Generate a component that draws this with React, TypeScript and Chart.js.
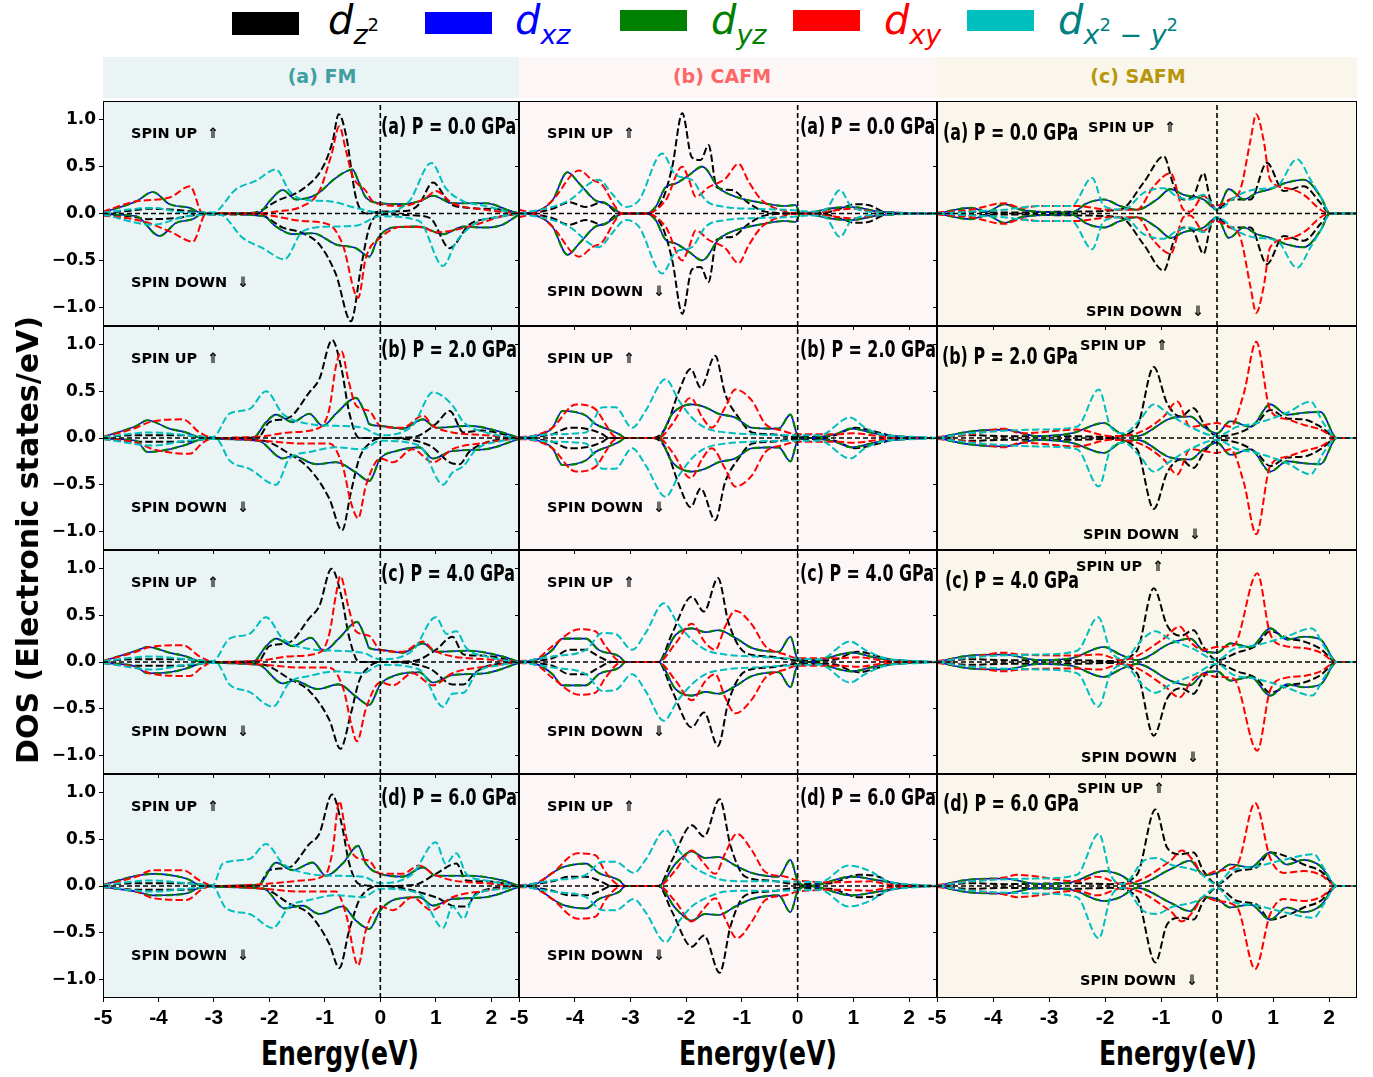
import React, { useEffect, useRef } from "react";
import { Chart, registerables } from "chart.js";
Chart.register(...registerables);

type P = [number, number][];

// ================= DATA (Energy eV, DOS states/eV) =================
// ---- FM, P = 0.0 GPa ----
const FM_P0_DZ2_UP: P = [[-5,0.01],[-4.5,0.03],[-4.2,0.05],[-3.7,0.04],[-3.2,0.01],[-2.5,0],[-2.2,0.02],[-1.88,0.13],[-1.4,0.26],[-1.04,0.49],[-0.86,0.77],[-0.75,1.06],[-0.62,0.84],[-0.44,0.17],[-0.26,0],[0,0.02],[0.5,0.03],[0.7,0.1],[0.95,0.33],[1.25,0.11],[1.6,0.06],[2.2,0.04],[2.5,0]];
const FM_P0_DZ2_DN: P = [[-5,-0.01],[-4.5,-0.03],[-4.2,-0.06],[-3.7,-0.05],[-3.2,-0.01],[-2.2,-0.01],[-1.76,-0.15],[-1.4,-0.21],[-1.1,-0.33],[-0.8,-0.65],[-0.53,-1.15],[-0.35,-0.58],[-0.2,-0.15],[0,-0.01],[0.6,-0.02],[0.9,-0.05],[1.25,-0.37],[1.6,-0.12],[2.0,-0.05],[2.5,0]];
const FM_P0_DXY_UP: P = [[-5,0.02],[-4.4,0.13],[-3.8,0.17],[-3.43,0.29],[-3.2,0],[-2.2,0],[-1.9,0.02],[-1.4,0.08],[-1.1,0.24],[-0.88,0.63],[-0.74,0.93],[-0.62,0.67],[-0.5,0.4],[-0.26,0.24],[-0.14,0.13],[0,0.1],[0.4,0.08],[0.83,0.17],[1.0,0.24],[1.3,0.11],[1.9,0.04],[2.5,0]];
const FM_P0_DXY_DN: P = [[-5,-0.02],[-4.3,-0.08],[-3.8,-0.19],[-3.38,-0.3],[-3.14,0],[-2.2,0],[-1.9,-0.03],[-1.4,-0.08],[-0.92,-0.12],[-0.68,-0.33],[-0.4,-0.9],[-0.26,-0.47],[0,-0.26],[0.4,-0.14],[0.77,-0.15],[1.0,-0.2],[1.6,-0.14],[2.2,-0.03],[2.5,0]];
const FM_P0_DXZ_UP: P = [[-5,0.01],[-4.4,0.13],[-4.1,0.23],[-3.8,0.1],[-3.44,0.06],[-3.2,0],[-2.18,0.01],[-2.0,0.13],[-1.76,0.25],[-1.52,0.15],[-1.16,0.2],[-0.8,0.38],[-0.5,0.47],[-0.4,0.35],[-0.26,0.17],[0,0.11],[0.4,0.1],[0.7,0.13],[0.95,0.19],[1.3,0.11],[1.9,0.11],[2.33,0.03],[2.5,0]];
const FM_P0_DXZ_DN: P = [[-5,-0.01],[-4.4,-0.03],[-3.98,-0.24],[-3.68,-0.1],[-3.38,-0.06],[-3.2,0],[-2.1,-0.03],[-1.88,-0.14],[-1.58,-0.22],[-1.22,-0.21],[-0.8,-0.33],[-0.44,-0.37],[-0.2,-0.46],[-0.04,-0.26],[0.23,-0.15],[0.7,-0.14],[1.13,-0.22],[1.5,-0.14],[1.9,-0.15],[2.2,-0.12],[2.5,-0.01]];
const FM_P0_DX2_UP: P = [[-5,0.01],[-4.1,0.06],[-3.5,0.01],[-3.02,0.01],[-2.6,0.26],[-2.24,0.35],[-1.88,0.47],[-1.64,0.24],[-1.4,0.15],[-0.92,0.13],[-0.44,0.06],[0,0.01],[0.52,0.13],[0.92,0.54],[1.18,0.27],[1.5,0.13],[1.9,0.08],[2.4,0]];
const FM_P0_DX2_DN: P = [[-5,-0.01],[-4.1,-0.12],[-3.5,-0.03],[-2.9,-0.01],[-2.48,-0.26],[-2.12,-0.37],[-1.73,-0.49],[-1.4,-0.19],[-0.92,-0.14],[-0.44,-0.13],[0,-0.03],[0.7,-0.08],[1.13,-0.56],[1.37,-0.3],[1.73,-0.1],[2.2,-0.03],[2.5,0]];
// ---- FM, P = 2.0 GPa ----
const FM_P2_DZ2_UP: P = [[-5,0.01],[-4.4,0.03],[-3.5,0.03],[-3.0,0],[-2.2,0.01],[-2,0.17],[-1.64,0.22],[-1.28,0.49],[-1.1,0.63],[-0.87,1.05],[-0.7,0.74],[-0.56,0.27],[-0.38,0],[0,0],[0.6,0.01],[1.0,0.15],[1.25,0.29],[1.5,0.06],[1.8,0.08],[2.5,0]];
const FM_P2_DZ2_DN: P = [[-5,-0.01],[-4.4,-0.04],[-3.5,-0.04],[-3.0,0],[-2.1,-0.03],[-1.64,-0.17],[-1.28,-0.33],[-0.92,-0.65],[-0.69,-0.99],[-0.53,-0.58],[-0.38,-0.22],[-0.2,-0.06],[0,0],[0.89,-0.08],[1.25,-0.26],[1.43,-0.28],[1.6,-0.15],[1.9,-0.05],[2.5,0]];
const FM_P2_DXY_UP: P = [[-5,0.01],[-4.4,0.11],[-4.16,0.17],[-3.56,0.2],[-3.26,0.06],[-3.0,0],[-2.1,0.02],[-1.64,0.06],[-1.1,0.11],[-0.92,0.31],[-0.8,0.77],[-0.7,0.93],[-0.58,0.63],[-0.44,0.35],[-0.2,0.29],[0,0.13],[0.4,0.11],[0.77,0.24],[0.95,0.13],[1.3,0.06],[1.9,0.03],[2.5,0]];
const FM_P2_DXY_DN: P = [[-5,-0.01],[-4.4,-0.05],[-4.1,-0.12],[-3.44,-0.17],[-3.2,-0.05],[-3.0,0],[-2.1,-0.03],[-1.4,-0.06],[-0.92,-0.06],[-0.68,-0.3],[-0.53,-0.69],[-0.4,-0.86],[-0.26,-0.51],[0,-0.22],[0.23,-0.26],[0.58,-0.12],[0.95,-0.26],[1.3,-0.12],[1.9,-0.05],[2.5,0]];
const FM_P2_DXZ_UP: P = [[-5,0.01],[-4.4,0.13],[-4.2,0.19],[-3.8,0.1],[-3.5,0.06],[-3.2,0],[-2.3,0],[-2.06,0.17],[-1.88,0.25],[-1.58,0.17],[-1.28,0.26],[-1.04,0.13],[-0.8,0.26],[-0.44,0.43],[-0.26,0.24],[-0.2,0.15],[0,0.13],[0.4,0.1],[0.77,0.2],[1.0,0.11],[1.6,0.13],[2.2,0.06],[2.5,0]];
const FM_P2_DXZ_DN: P = [[-5,-0.01],[-4.4,-0.03],[-4.2,-0.15],[-3.8,-0.12],[-3.44,-0.06],[-3.2,-0.01],[-2.2,-0.03],[-1.76,-0.22],[-1.58,-0.19],[-1.16,-0.28],[-0.8,-0.26],[-0.44,-0.37],[-0.2,-0.46],[0,-0.22],[0.29,-0.14],[0.7,-0.1],[0.95,-0.22],[1.3,-0.14],[1.9,-0.12],[2.5,-0.01]];
const FM_P2_DX2_UP: P = [[-5,0.01],[-4.1,0.06],[-3.5,0.03],[-3.02,0.01],[-2.72,0.26],[-2.36,0.31],[-2.06,0.5],[-1.76,0.26],[-1.28,0.15],[-0.8,0.13],[-0.32,0.11],[0,0.03],[0.58,0.13],[0.95,0.49],[1.3,0.35],[1.5,0.17],[1.9,0.06],[2.45,0]];
const FM_P2_DX2_DN: P = [[-5,-0.01],[-4.1,-0.08],[-3.5,-0.03],[-2.96,-0.01],[-2.72,-0.24],[-2.36,-0.33],[-1.88,-0.5],[-1.64,-0.22],[-1.28,-0.15],[-0.8,-0.1],[-0.32,-0.12],[0,-0.03],[0.7,-0.08],[1.13,-0.5],[1.3,-0.37],[1.5,-0.3],[1.73,-0.12],[2.2,-0.03],[2.5,0]];
// ---- FM, P = 4.0 GPa ----
const FM_P4_DZ2_UP: P = [[-5,0.01],[-4.4,0.03],[-3.5,0.03],[-3.0,0],[-2.2,0.01],[-2,0.17],[-1.64,0.21],[-1.28,0.47],[-1.1,0.6],[-0.88,1.0],[-0.7,0.7],[-0.56,0.26],[-0.38,0],[0,0],[0.6,0.01],[1.0,0.13],[1.3,0.27],[1.5,0.08],[1.8,0.07],[2.5,0]];
const FM_P4_DZ2_DN: P = [[-5,-0.01],[-4.4,-0.04],[-3.5,-0.04],[-3.0,0],[-2.1,-0.03],[-1.64,-0.18],[-1.28,-0.31],[-0.92,-0.62],[-0.72,-0.93],[-0.53,-0.55],[-0.38,-0.2],[-0.2,-0.05],[0,0],[0.89,-0.07],[1.3,-0.24],[1.5,-0.24],[1.7,-0.12],[1.9,-0.05],[2.5,0]];
const FM_P4_DXY_UP: P = [[-5,0.01],[-4.4,0.11],[-4.16,0.16],[-3.56,0.18],[-3.26,0.06],[-3.0,0],[-2.1,0.02],[-1.64,0.06],[-1.1,0.1],[-0.92,0.3],[-0.8,0.72],[-0.72,0.92],[-0.58,0.6],[-0.44,0.33],[-0.2,0.28],[0,0.13],[0.4,0.11],[0.77,0.22],[0.95,0.13],[1.3,0.06],[1.9,0.03],[2.5,0]];
const FM_P4_DXY_DN: P = [[-5,-0.01],[-4.4,-0.06],[-4.1,-0.13],[-3.44,-0.15],[-3.2,-0.05],[-3.0,0],[-2.1,-0.03],[-1.4,-0.06],[-0.92,-0.06],[-0.66,-0.3],[-0.52,-0.68],[-0.42,-0.85],[-0.26,-0.5],[0,-0.22],[0.23,-0.25],[0.58,-0.12],[0.95,-0.25],[1.3,-0.12],[1.9,-0.05],[2.5,0]];
const FM_P4_DXZ_UP: P = [[-5,0.01],[-4.4,0.12],[-4.2,0.16],[-3.8,0.1],[-3.5,0.06],[-3.2,0],[-2.3,0],[-2.06,0.17],[-1.88,0.25],[-1.58,0.17],[-1.25,0.26],[-1.02,0.12],[-0.75,0.25],[-0.42,0.43],[-0.26,0.24],[-0.2,0.15],[0,0.13],[0.4,0.1],[0.77,0.2],[1.0,0.11],[1.6,0.12],[2.2,0.06],[2.5,0]];
const FM_P4_DXZ_DN: P = [[-5,-0.01],[-4.4,-0.05],[-4.2,-0.12],[-3.8,-0.11],[-3.44,-0.06],[-3.2,-0.01],[-2.2,-0.03],[-1.76,-0.23],[-1.55,-0.2],[-1.13,-0.29],[-0.75,-0.24],[-0.44,-0.37],[-0.2,-0.46],[0,-0.24],[0.29,-0.14],[0.7,-0.11],[0.95,-0.22],[1.3,-0.14],[1.9,-0.12],[2.5,-0.01]];
const FM_P4_DX2_UP: P = [[-5,0.01],[-4.1,0.06],[-3.5,0.03],[-3.02,0.01],[-2.72,0.25],[-2.36,0.3],[-2.06,0.48],[-1.76,0.25],[-1.28,0.14],[-0.8,0.12],[-0.32,0.1],[0,0.03],[0.58,0.12],[1.0,0.48],[1.2,0.3],[1.37,0.33],[1.55,0.15],[1.9,0.06],[2.45,0]];
const FM_P4_DX2_DN: P = [[-5,-0.01],[-4.1,-0.08],[-3.5,-0.03],[-2.96,-0.01],[-2.72,-0.24],[-2.36,-0.32],[-1.94,-0.48],[-1.64,-0.22],[-1.28,-0.15],[-0.8,-0.1],[-0.32,-0.12],[0,-0.03],[0.7,-0.08],[1.13,-0.48],[1.3,-0.34],[1.5,-0.33],[1.73,-0.12],[2.2,-0.03],[2.5,0]];
// ---- FM, P = 6.0 GPa ----
const FM_P6_DZ2_UP: P = [[-5,0.01],[-4.4,0.03],[-3.5,0.03],[-3.0,0],[-2.2,0.01],[-2,0.17],[-1.64,0.2],[-1.28,0.45],[-1.1,0.56],[-0.87,0.98],[-0.7,0.67],[-0.56,0.24],[-0.38,0.02],[0,0],[0.6,0.01],[1.0,0.13],[1.37,0.24],[1.55,0.06],[1.9,0.05],[2.5,0]];
const FM_P6_DZ2_DN: P = [[-5,-0.01],[-4.4,-0.04],[-3.5,-0.04],[-3.0,0],[-2.1,-0.03],[-1.64,-0.19],[-1.28,-0.3],[-0.92,-0.62],[-0.74,-0.88],[-0.56,-0.47],[-0.38,-0.15],[-0.2,-0.03],[0,0],[1.0,-0.12],[1.37,-0.22],[1.55,-0.22],[1.73,-0.08],[2.5,0]];
const FM_P6_DXY_UP: P = [[-5,0.01],[-4.4,0.1],[-4.1,0.17],[-3.56,0.17],[-3.26,0.06],[-3.0,0],[-2.1,0.02],[-1.4,0.06],[-0.98,0.13],[-0.86,0.38],[-0.74,0.91],[-0.6,0.49],[-0.44,0.31],[-0.2,0.27],[0,0.13],[0.4,0.13],[0.7,0.22],[0.95,0.13],[1.3,0.06],[1.9,0.03],[2.5,0]];
const FM_P6_DXY_DN: P = [[-5,-0.01],[-4.4,-0.06],[-4.1,-0.13],[-3.5,-0.15],[-3.2,-0.03],[-3.0,0],[-2.1,-0.03],[-1.4,-0.06],[-0.8,-0.06],[-0.62,-0.3],[-0.4,-0.85],[-0.26,-0.47],[0,-0.22],[0.23,-0.26],[0.58,-0.12],[0.92,-0.26],[1.3,-0.12],[1.9,-0.05],[2.5,0]];
const FM_P6_DXZ_UP: P = [[-5,0.01],[-4.4,0.11],[-4.1,0.13],[-3.5,0.08],[-3.2,0],[-2.2,0.01],[-1.88,0.25],[-1.58,0.17],[-1.22,0.25],[-0.98,0.11],[-0.68,0.24],[-0.4,0.43],[-0.26,0.24],[0,0.13],[0.4,0.1],[0.77,0.2],[1.0,0.11],[1.6,0.11],[2.2,0.06],[2.5,0]];
const FM_P6_DXZ_DN: P = [[-5,-0.01],[-4.4,-0.06],[-4.1,-0.1],[-3.5,-0.08],[-3.2,-0.01],[-2.1,-0.03],[-1.73,-0.24],[-1.4,-0.21],[-1.1,-0.3],[-0.68,-0.22],[-0.44,-0.37],[-0.2,-0.46],[0,-0.26],[0.29,-0.14],[0.7,-0.12],[0.95,-0.21],[1.3,-0.14],[1.9,-0.12],[2.5,-0.01]];
const FM_P6_DX2_UP: P = [[-5,0.01],[-4.1,0.06],[-3.5,0.03],[-3.02,0.01],[-2.84,0.24],[-2.36,0.29],[-2.06,0.45],[-1.76,0.24],[-1.28,0.13],[-0.8,0.11],[-0.32,0.1],[0,0.03],[0.58,0.13],[1.0,0.47],[1.18,0.24],[1.37,0.35],[1.55,0.13],[1.9,0.06],[2.45,0]];
const FM_P6_DX2_DN: P = [[-5,-0.01],[-4.1,-0.06],[-3.5,-0.03],[-3.02,-0.01],[-2.78,-0.24],[-2.36,-0.3],[-1.94,-0.45],[-1.64,-0.22],[-1.28,-0.15],[-0.8,-0.1],[-0.32,-0.12],[0,-0.03],[0.7,-0.08],[1.13,-0.45],[1.3,-0.22],[1.5,-0.35],[1.67,-0.12],[2.2,-0.03],[2.5,0]];

// ---- CAFM (spin-down channel is the mirror image of spin-up) ----
const CAFM_P0_DZ2: P = [[-5,0],[-4.7,0.01],[-4.4,0.05],[-4.1,0.12],[-3.8,0.07],[-3.5,0.12],[-3.2,0],[-2.73,0],[-2.43,0.14],[-2.25,0.5],[-2.07,1.07],[-1.9,0.6],[-1.74,0.57],[-1.6,0.73],[-1.45,0.28],[-1.18,0.25],[-0.88,0.11],[-0.58,0.02],[0,0],[0.5,0.01],[0.8,0.06],[1.03,0.1],[1.27,0.09],[1.6,0.01],[2.5,0]];
const CAFM_P0_DXY: P = [[-5,0.04],[-4.85,0.02],[-4.7,0.01],[-4.4,0.14],[-3.92,0.46],[-3.69,0.36],[-3.5,0.3],[-3.27,0.07],[-3.15,0],[-2.73,0],[-2.37,0.14],[-2.07,0.5],[-1.95,0.36],[-1.83,0.18],[-1.6,0.28],[-1.3,0.37],[-1.06,0.53],[-0.88,0.34],[-0.64,0.14],[-0.2,0.02],[0,0],[0.5,0.02],[0.97,0.05],[1.5,0.01],[2.5,0]];
const CAFM_P0_DXZ: P = [[-5,0],[-4.7,0.02],[-4.4,0.14],[-4.13,0.44],[-3.92,0.32],[-3.63,0.14],[-3.45,0.11],[-3.27,0.04],[-3.15,0],[-2.73,0],[-2.55,0.07],[-2.37,0.28],[-2.19,0.32],[-1.95,0.41],[-1.71,0.5],[-1.41,0.27],[-1.12,0.18],[-0.7,0.12],[-0.22,0.08],[-0.04,0.09],[0.05,0],[0.67,0.06],[0.97,0.07],[1.45,0.02],[2.5,0]];
const CAFM_P0_DX2: P = [[-5,0],[-4.4,0.07],[-4.1,0.14],[-3.57,0.36],[-3.33,0.21],[-3.09,0.07],[-2.85,0.14],[-2.43,0.64],[-2.19,0.41],[-1.9,0.36],[-1.65,0.14],[-1.3,0.07],[-0.82,0.05],[-0.22,0.04],[0.3,0.02],[0.5,0.04],[0.76,0.25],[0.97,0.07],[1.57,0.01],[2.5,0]];
const CAFM_P2_DZ2: P = [[-5,0],[-4.4,0.04],[-4.1,0.11],[-3.8,0.1],[-3.5,0.04],[-3.39,0],[-2.6,0],[-2.37,0.11],[-2.13,0.5],[-1.92,0.74],[-1.74,0.54],[-1.48,0.88],[-1.3,0.47],[-1.06,0.22],[-0.82,0.06],[-0.46,0.04],[0,0.01],[0.6,0.02],[1.03,0.11],[1.45,0.06],[1.8,0.01],[2.5,0]];
const CAFM_P2_DXY: P = [[-5,0.01],[-4.7,0.03],[-4.4,0.11],[-3.98,0.36],[-3.63,0.31],[-3.45,0.15],[-3.33,0.04],[-3.2,0],[-2.5,0],[-2.25,0.15],[-1.92,0.43],[-1.71,0.22],[-1.54,0.11],[-1.3,0.33],[-1.12,0.52],[-0.82,0.4],[-0.58,0.15],[-0.28,0.08],[0,0.04],[0.7,0.04],[1.0,0.05],[1.6,0.01],[2.5,0]];
const CAFM_P2_DXZ: P = [[-5,0],[-4.7,0.02],[-4.4,0.11],[-4.22,0.29],[-3.8,0.24],[-3.63,0.15],[-3.39,0.09],[-3.2,0.04],[-3.09,0],[-2.5,0],[-2.25,0.26],[-1.9,0.36],[-1.66,0.33],[-1.42,0.26],[-1.12,0.22],[-0.82,0.11],[-0.34,0.1],[-0.13,0.25],[0,0.03],[0.2,0],[0.67,0.04],[0.97,0.1],[1.45,0.04],[2.0,0.01],[2.5,0]];
const CAFM_P2_DX2: P = [[-5,0],[-4.4,0.04],[-3.8,0.06],[-3.5,0.33],[-3.27,0.33],[-2.97,0.11],[-2.73,0.29],[-2.37,0.63],[-2.13,0.4],[-1.9,0.22],[-1.66,0.11],[-1.3,0.06],[-0.82,0.04],[-0.22,0.03],[0.4,0.03],[0.94,0.22],[1.21,0.11],[1.57,0.03],[2.2,0.01],[2.5,0]];
const CAFM_P4_DZ2: P = [[-5,0],[-4.4,0.04],[-4.1,0.13],[-3.8,0.13],[-3.57,0.06],[-3.33,0],[-2.5,0],[-2.25,0.31],[-1.9,0.7],[-1.68,0.54],[-1.43,0.9],[-1.24,0.42],[-0.94,0.1],[-0.52,0.06],[0,0.02],[0.6,0.02],[1.09,0.11],[1.45,0.06],[1.8,0.01],[2.5,0]];
const CAFM_P4_DXY: P = [[-5,0.01],[-4.7,0.03],[-4.4,0.17],[-3.92,0.35],[-3.63,0.33],[-3.45,0.17],[-3.15,0],[-2.5,0],[-2.19,0.2],[-1.9,0.41],[-1.65,0.2],[-1.48,0.13],[-1.3,0.38],[-1.12,0.55],[-0.82,0.4],[-0.58,0.17],[-0.22,0.08],[0,0.04],[0.7,0.04],[1.1,0.05],[1.6,0.01],[2.5,0]];
const CAFM_P4_DXZ: P = [[-5,0],[-4.7,0.02],[-4.4,0.13],[-4.22,0.25],[-3.8,0.25],[-3.57,0.13],[-3.2,0.06],[-3.09,0],[-2.5,0],[-2.19,0.29],[-1.9,0.36],[-1.66,0.32],[-1.42,0.34],[-1.12,0.26],[-0.82,0.15],[-0.34,0.11],[-0.13,0.27],[0,0.03],[0.2,0],[0.97,0.1],[1.45,0.04],[2.0,0.01],[2.5,0]];
const CAFM_P4_DX2: P = [[-5,0],[-4.4,0.06],[-3.8,0.13],[-3.5,0.31],[-3.27,0.3],[-2.97,0.13],[-2.73,0.31],[-2.4,0.63],[-2.16,0.42],[-1.9,0.24],[-1.65,0.13],[-1.3,0.08],[-0.82,0.06],[-0.22,0.04],[0.4,0.03],[0.94,0.22],[1.21,0.13],[1.57,0.04],[2.2,0.01],[2.5,0]];
const CAFM_P6_DZ2: P = [[-5,0],[-4.4,0.05],[-4.1,0.1],[-3.8,0.1],[-3.57,0.06],[-3.33,0],[-2.5,0],[-2.25,0.28],[-1.9,0.65],[-1.68,0.53],[-1.4,0.93],[-1.2,0.42],[-0.94,0.1],[-0.52,0.06],[0,0.02],[0.6,0.03],[1.09,0.12],[1.45,0.1],[1.7,0.03],[2.5,0]];
const CAFM_P6_DXY: P = [[-5,0.01],[-4.7,0.03],[-4.4,0.14],[-3.95,0.35],[-3.63,0.33],[-3.45,0.15],[-3.15,0],[-2.5,0],[-2.19,0.17],[-1.9,0.38],[-1.68,0.24],[-1.48,0.13],[-1.3,0.35],[-1.09,0.56],[-0.82,0.38],[-0.58,0.15],[-0.22,0.1],[0,0.06],[0.7,0.04],[1.3,0.05],[1.7,0.01],[2.5,0]];
const CAFM_P6_DXZ: P = [[-5,0],[-4.7,0.02],[-4.4,0.14],[-4.22,0.2],[-3.8,0.24],[-3.57,0.14],[-3.2,0.06],[-3.09,0],[-2.5,0],[-2.19,0.24],[-1.9,0.37],[-1.66,0.3],[-1.42,0.31],[-1.12,0.22],[-0.82,0.14],[-0.34,0.1],[-0.13,0.28],[0,0.06],[0.2,0],[0.97,0.1],[1.45,0.06],[2.0,0.01],[2.5,0]];
const CAFM_P6_DX2: P = [[-5,0],[-4.4,0.06],[-3.8,0.12],[-3.5,0.26],[-3.27,0.26],[-2.94,0.14],[-2.73,0.28],[-2.37,0.6],[-2.13,0.38],[-1.9,0.22],[-1.65,0.13],[-1.3,0.06],[-0.82,0.05],[-0.22,0.05],[0.4,0.04],[0.91,0.22],[1.33,0.15],[1.57,0.06],[2.2,0.01],[2.5,0]];

// ---- SAFM (spin-down channel is the mirror image of spin-up) ----
const SAFM_P0_DZ2: P = [[-5,0],[-4.4,0.02],[-3.8,0.01],[-2.6,0.02],[-1.73,0.04],[-1.31,0.33],[-0.95,0.61],[-0.77,0.29],[-0.6,0.15],[-0.42,0.19],[-0.24,0.43],[-0.12,0.15],[0,0.04],[0.24,0.15],[0.6,0.15],[0.89,0.54],[1.19,0.24],[1.55,0.29],[1.85,0.11],[2.02,0],[2.5,0]];
const SAFM_P0_DXY: P = [[-5,0.01],[-4.4,0.04],[-3.8,0.11],[-3.5,0.06],[-3.2,0.08],[-2.5,0.08],[-1.9,0.04],[-1.43,0.04],[-1.13,0.29],[-0.83,0.43],[-0.6,0.04],[-0.48,0.02],[-0.24,0.19],[-0.06,0.08],[0.24,0.15],[0.42,0.26],[0.6,0.79],[0.7,1.06],[0.83,0.79],[0.95,0.36],[1.25,0.27],[1.55,0.2],[1.85,0.04],[2.02,0],[2.5,0]];
const SAFM_P0_DXZ: P = [[-5,0],[-4.4,0.06],[-4.1,0.02],[-3.8,0.1],[-3.5,0.04],[-2.6,0.01],[-2.32,0.11],[-2.02,0.15],[-1.73,0.08],[-1.43,0.04],[-1.07,0.15],[-0.83,0.26],[-0.6,0.2],[-0.24,0.15],[0,0.04],[0.21,0.26],[0.48,0.15],[0.71,0.22],[0.95,0.26],[1.25,0.33],[1.55,0.36],[1.85,0.18],[2.02,0],[2.5,0]];
const SAFM_P0_DX2: P = [[-5,0],[-4.4,0.02],[-3.8,0.04],[-3.2,0.08],[-2.6,0.08],[-2.23,0.38],[-2.02,0.08],[-1.67,0.04],[-1.31,0.22],[-0.95,0.27],[-0.71,0.18],[-0.48,0.15],[-0.24,0.2],[0,0.04],[0.36,0.19],[0.71,0.26],[1.07,0.29],[1.43,0.58],[1.67,0.36],[1.85,0.18],[2.02,0],[2.5,0]];
const SAFM_P2_DZ2: P = [[-5,0],[-4.4,0.03],[-3.8,0.02],[-2.6,0.02],[-1.9,0.01],[-1.43,0.12],[-1.13,0.76],[-0.89,0.37],[-0.65,0.23],[-0.42,0.32],[-0.24,0.16],[0,0.02],[0.36,0.05],[0.71,0.16],[0.95,0.3],[1.25,0.21],[1.55,0.2],[1.85,0.12],[2.14,0],[2.5,0]];
const SAFM_P2_DXY: P = [[-5,0.01],[-4.4,0.04],[-3.8,0.1],[-3.5,0.05],[-2.5,0.09],[-1.9,0.02],[-1.43,0.05],[-0.95,0.23],[-0.71,0.39],[-0.48,0.12],[-0.24,0.14],[0,0.16],[0.24,0.12],[0.48,0.48],[0.7,1.03],[0.95,0.3],[1.25,0.2],[1.55,0.14],[1.85,0.09],[2.14,0],[2.5,0]];
const SAFM_P2_DXZ: P = [[-5,0],[-4.4,0.07],[-3.8,0.09],[-3.2,0.02],[-2.6,0.05],[-2.02,0.16],[-1.73,0.05],[-1.43,0.02],[-0.83,0.21],[-0.48,0.23],[-0.24,0.12],[0,0.05],[0.24,0.18],[0.6,0.12],[0.95,0.36],[1.25,0.25],[1.55,0.27],[1.85,0.28],[2.14,0],[2.5,0]];
const SAFM_P2_DX2: P = [[-5,0],[-4.4,0.05],[-3.2,0.09],[-2.5,0.12],[-2.11,0.52],[-1.9,0.12],[-1.67,0.05],[-1.37,0.2],[-1.13,0.36],[-0.89,0.27],[-0.48,0.12],[0,0.02],[0.36,0.12],[0.71,0.16],[1.25,0.27],[1.67,0.39],[1.9,0.16],[2.14,0],[2.5,0]];
const SAFM_P4_DZ2: P = [[-5,0],[-4.4,0.03],[-3.8,0.02],[-2.6,0.02],[-1.9,0.01],[-1.43,0.12],[-1.13,0.79],[-0.89,0.39],[-0.65,0.28],[-0.42,0.34],[-0.24,0.16],[0,0.02],[0.36,0.1],[0.71,0.18],[0.95,0.33],[1.28,0.25],[1.55,0.22],[1.85,0.14],[2.14,0],[2.5,0]];
const SAFM_P4_DXY: P = [[-5,0.01],[-4.4,0.05],[-3.8,0.1],[-3.5,0.08],[-2.5,0.07],[-2.1,0.08],[-1.7,0.02],[-0.95,0.25],[-0.67,0.38],[-0.45,0.2],[-0.24,0.13],[0,0.16],[0.3,0.18],[0.72,0.95],[0.95,0.3],[1.22,0.17],[1.55,0.15],[1.85,0.1],[2.14,0],[2.5,0]];
const SAFM_P4_DXZ: P = [[-5,0],[-4.4,0.07],[-3.8,0.08],[-3.2,0.02],[-2.6,0.04],[-2.02,0.16],[-1.73,0.08],[-1.43,0.02],[-0.83,0.2],[-0.48,0.25],[-0.24,0.12],[0,0.1],[0.24,0.2],[0.6,0.16],[0.95,0.36],[1.25,0.24],[1.55,0.27],[1.85,0.24],[2.14,0],[2.5,0]];
const SAFM_P4_DX2: P = [[-5,0],[-4.4,0.05],[-3.2,0.08],[-2.5,0.12],[-2.12,0.48],[-1.9,0.12],[-1.67,0.03],[-1.34,0.24],[-1.1,0.33],[-0.86,0.25],[-0.42,0.14],[0,0.02],[0.3,0.14],[0.71,0.18],[1.22,0.27],[1.7,0.36],[1.9,0.18],[2.14,0],[2.5,0]];
const SAFM_P6_DZ2: P = [[-5,0],[-4.4,0.03],[-3.8,0.02],[-2.6,0.03],[-1.9,0.02],[-1.43,0.12],[-1.1,0.82],[-0.89,0.41],[-0.65,0.34],[-0.42,0.36],[-0.24,0.16],[0,0.02],[0.36,0.16],[0.71,0.2],[0.95,0.36],[1.31,0.3],[1.55,0.23],[1.85,0.16],[2.14,0],[2.5,0]];
const SAFM_P6_DXY: P = [[-5,0.01],[-4.4,0.05],[-3.8,0.09],[-3.57,0.12],[-2.5,0.05],[-2.15,0.1],[-1.67,0.02],[-0.83,0.27],[-0.63,0.38],[-0.42,0.27],[-0.24,0.12],[0,0.16],[0.36,0.23],[0.68,0.89],[0.95,0.3],[1.19,0.14],[1.55,0.16],[1.85,0.12],[2.14,0],[2.5,0]];
const SAFM_P6_DXZ: P = [[-5,0],[-4.4,0.07],[-3.8,0.08],[-3.2,0.02],[-2.6,0.04],[-2.02,0.16],[-1.73,0.12],[-1.43,0.02],[-0.83,0.18],[-0.48,0.27],[-0.24,0.12],[0,0.14],[0.24,0.23],[0.6,0.2],[0.95,0.36],[1.25,0.23],[1.55,0.28],[1.85,0.21],[2.14,0],[2.5,0]];
const SAFM_P6_DX2: P = [[-5,0],[-4.4,0.05],[-3.2,0.08],[-2.5,0.12],[-2.11,0.56],[-1.9,0.12],[-1.67,0.02],[-1.31,0.27],[-1.07,0.3],[-0.83,0.23],[-0.36,0.16],[0,0.02],[0.24,0.16],[0.71,0.21],[1.19,0.28],[1.73,0.34],[1.9,0.2],[2.14,0],[2.5,0]];

// ---- axes / labels ----
const X_TICKS = [-5, -4, -3, -2, -1, 0, 1, 2];
const Y_TICKS = [-1, -0.5, 0, 0.5, 1];
const X_MIN = -5, X_MAX = 2.5, Y_MIN = -1.2, Y_MAX = 1.2;
const PRESSURES = ["0.0", "2.0", "4.0", "6.0"];
const ROW_TAGS = ["(a)", "(b)", "(c)", "(d)"];
const PHASES = ["(a) FM", "(b) CAFM", "(c) SAFM"];

// ================= BUILD =================
type Curves = { dz2: [P, P]; dxz: [P, P]; dxy: [P, P]; dx2: [P, P] };
const neg = (a: P): P => a.map(([x, y]) => [x, -y] as [number, number]);
const afm = (dz2: P, dxz: P, dxy: P, dx2: P): Curves => ({
  dz2: [dz2, neg(dz2)], dxz: [dxz, neg(dxz)], dxy: [dxy, neg(dxy)], dx2: [dx2, neg(dx2)],
});
const FM: Curves[] = [
  { dz2: [FM_P0_DZ2_UP, FM_P0_DZ2_DN], dxz: [FM_P0_DXZ_UP, FM_P0_DXZ_DN], dxy: [FM_P0_DXY_UP, FM_P0_DXY_DN], dx2: [FM_P0_DX2_UP, FM_P0_DX2_DN] },
  { dz2: [FM_P2_DZ2_UP, FM_P2_DZ2_DN], dxz: [FM_P2_DXZ_UP, FM_P2_DXZ_DN], dxy: [FM_P2_DXY_UP, FM_P2_DXY_DN], dx2: [FM_P2_DX2_UP, FM_P2_DX2_DN] },
  { dz2: [FM_P4_DZ2_UP, FM_P4_DZ2_DN], dxz: [FM_P4_DXZ_UP, FM_P4_DXZ_DN], dxy: [FM_P4_DXY_UP, FM_P4_DXY_DN], dx2: [FM_P4_DX2_UP, FM_P4_DX2_DN] },
  { dz2: [FM_P6_DZ2_UP, FM_P6_DZ2_DN], dxz: [FM_P6_DXZ_UP, FM_P6_DXZ_DN], dxy: [FM_P6_DXY_UP, FM_P6_DXY_DN], dx2: [FM_P6_DX2_UP, FM_P6_DX2_DN] },
];
const CAFM: Curves[] = [
  afm(CAFM_P0_DZ2, CAFM_P0_DXZ, CAFM_P0_DXY, CAFM_P0_DX2),
  afm(CAFM_P2_DZ2, CAFM_P2_DXZ, CAFM_P2_DXY, CAFM_P2_DX2),
  afm(CAFM_P4_DZ2, CAFM_P4_DXZ, CAFM_P4_DXY, CAFM_P4_DX2),
  afm(CAFM_P6_DZ2, CAFM_P6_DXZ, CAFM_P6_DXY, CAFM_P6_DX2),
];
const SAFM: Curves[] = [
  afm(SAFM_P0_DZ2, SAFM_P0_DXZ, SAFM_P0_DXY, SAFM_P0_DX2),
  afm(SAFM_P2_DZ2, SAFM_P2_DXZ, SAFM_P2_DXY, SAFM_P2_DX2),
  afm(SAFM_P4_DZ2, SAFM_P4_DXZ, SAFM_P4_DXY, SAFM_P4_DX2),
  afm(SAFM_P6_DZ2, SAFM_P6_DXZ, SAFM_P6_DXY, SAFM_P6_DX2),
];
const ALL = [FM, CAFM, SAFM];

const ORBITALS: { src: keyof Curves; color: string; dashed: boolean; width: number }[] = [
  { src: "dz2", color: "#000000", dashed: true, width: 2 },
  { src: "dxz", color: "#0000ff", dashed: false, width: 1.6 },
  { src: "dxz", color: "#008000", dashed: true, width: 2.1 },
  { src: "dxy", color: "#ff0000", dashed: true, width: 2 },
  { src: "dx2", color: "#00bfbf", dashed: true, width: 2 },
];

// layout
const COL_X = [103, 519, 937];
const COL_W = [416, 418, 420];
const ROW_Y = [101, 326, 550, 774];
const ROW_H = [225, 224, 224, 224];
const BG = ["#eaf4f4", "#fdf6f6", "#faf6eb"];
const HEAD_COLORS = ["#3f9f9f", "#ff6666", "#b8960c"];
const HEAD_CX = [322, 722, 1138];
const ENERGY_CX = [340, 758, 1178];
const BOLD = "'DejaVu Sans', sans-serif";
const TICKFONT = "'Liberation Sans', 'DejaVu Sans', sans-serif";

const framePlugin = {
  id: "frame",
  afterDraw(chart: any) {
    const { ctx, chartArea: a } = chart;
    ctx.save();
    ctx.strokeStyle = "#000";
    ctx.lineWidth = 1;
    ctx.strokeRect(a.left + 0.5, a.top + 0.5, a.right - a.left - 1, a.bottom - a.top - 1);
    ctx.restore();
  },
};

function Panel({ col, row }: { col: number; row: number }) {
  const ref = useRef<HTMLCanvasElement>(null);
  const L = col === 0 ? 103 : 20;
  const B = row === 3 ? 40 : 8;
  const T = 2, R = 2;
  const w = COL_W[col] + L + R;
  const h = ROW_H[row] + T + B;
  useEffect(() => {
    const curves = ALL[col][row];
    const datasets: any[] = [];
    ORBITALS.forEach((o) => {
      [0, 1].forEach((s) => {
        const pts = curves[o.src][s];
        datasets.push({
          data: pts.map(([x, y]) => ({ x, y })),
          borderColor: o.color,
          borderWidth: o.width,
          borderDash: o.dashed ? [7.4, 3.2] : [],
          pointRadius: 0,
          fill: false,
          cubicInterpolationMode: "monotone",
        });
      });
    });
    datasets.push({
      data: [{ x: X_MIN, y: 0 }, { x: X_MAX, y: 0 }],
      borderColor: "#000", borderWidth: 1.6, borderDash: [5, 3], pointRadius: 0, tension: 0,
    });
    datasets.push({
      data: [{ x: 0, y: Y_MIN }, { x: 0, y: Y_MAX }],
      borderColor: "#000", borderWidth: 1.6, borderDash: [5, 3], pointRadius: 0, tension: 0,
    });
    datasets.forEach((d, i) => (d.order = -i));
    const chart = new Chart(ref.current!, {
      type: "line",
      data: { datasets },
      plugins: [framePlugin],
      options: {
        responsive: false,
        animation: false,
        devicePixelRatio: 1,
        layout: { padding: { top: T, right: R, left: 0, bottom: 0 } },
        plugins: { legend: { display: false }, tooltip: { enabled: false } },
        scales: {
          x: {
            type: "linear",
            min: X_MIN,
            max: X_MAX,
            afterBuildTicks: (s: any) => { s.ticks = X_TICKS.map((v) => ({ value: v })); },
            afterFit: (s: any) => { s.height = B; s.paddingLeft = 0; s.paddingRight = 0; s.paddingTop = 0; s.paddingBottom = 0; },
            ticks: {
              display: row === 3,
              color: "#000",
              padding: 4,
              maxRotation: 0,
              autoSkip: false,
              font: { family: TICKFONT, size: 21, weight: "bold" },
              callback: (v: any) => String(v),
            },
            grid: { display: true, drawOnChartArea: false, drawTicks: true, tickLength: 4, color: "#000", lineWidth: 1 },
            border: { display: false },
          },
          y: {
            type: "linear",
            min: Y_MIN,
            max: Y_MAX,
            afterBuildTicks: (s: any) => { s.ticks = Y_TICKS.map((v) => ({ value: v })); },
            afterFit: (s: any) => { s.width = L; s.paddingTop = 0; s.paddingBottom = 0; s.paddingLeft = 0; s.paddingRight = 0; },
            ticks: {
              display: col === 0,
              color: "#000",
              padding: 3,
              font: { family: BOLD, size: 17, weight: "bold" },
              callback: (v: any) => (v < 0 ? "\u2212" : "") + Math.abs(v).toFixed(1),
            },
            grid: { display: true, drawOnChartArea: false, drawTicks: true, tickLength: 4, color: "#000", lineWidth: 1 },
            border: { display: false },
          },
        },
      } as any,
    });
    return () => chart.destroy();
  }, [col, row]);
  return (
    <canvas
      ref={ref}
      width={w}
      height={h}
      style={{ position: "absolute", left: COL_X[col] - L, top: ROW_Y[row] - T, width: w, height: h }}
    />
  );
}

const abs = (x: number, y: number, extra: any = {}): any => ({
  position: "absolute", left: x, top: y, transform: "translateY(-50%)", whiteSpace: "pre", lineHeight: 1, ...extra,
});

const spinStyle = { fontFamily: BOLD, fontWeight: "bold", fontSize: 14.5, color: "#000" };
const pressStyle = {
  fontFamily: BOLD, fontWeight: "bold", fontSize: 23, color: "#000",
  transform: "translateY(-50%) scaleX(0.69)", transformOrigin: "0 50%",
};

function Annotations({ col, row }: { col: number; row: number }) {
  const top = ROW_Y[row];
  const tag = `${ROW_TAGS[row]} P = ${PRESSURES[row]} GPa`;
  if (col < 2) {
    const x0 = COL_X[col];
    const downDy = col === 1 && row === 0 ? 190 : 181;
    const fermiX = col === 0 ? 381 : 800;
    return (
      <>
        <div style={abs(x0 + 28, top + 32, spinStyle)}>{"SPIN UP  \u21D1"}</div>
        <div style={abs(x0 + 28, top + downDy, spinStyle)}>{"SPIN DOWN  \u21D3"}</div>
        <div style={abs(fermiX, top + (row === 0 ? 25 : 23), pressStyle)}>{tag}</div>
      </>
    );
  }
  const upPos = [[1088, 127], [1080, 345], [1076, 566], [1077, 788]][row];
  const dnPos = [[1086, 311], [1083, 534], [1081, 757], [1080, 980]][row];
  const tgPos = [[943, 132], [942, 356], [945, 580], [943, 803]][row];
  return (
    <>
      <div style={abs(upPos[0], upPos[1], spinStyle)}>{"SPIN UP  \u21D1"}</div>
      <div style={abs(dnPos[0], dnPos[1], spinStyle)}>{"SPIN DOWN  \u21D3"}</div>
      <div style={abs(tgPos[0], tgPos[1], pressStyle)}>{tag}</div>
    </>
  );
}

function MathLabel({ color, children }: { color: string; children: any }) {
  return (
    <span style={{ fontFamily: BOLD, fontStyle: "italic", fontSize: 40, color, whiteSpace: "nowrap" }}>{children}</span>
  );
}
const Sub = ({ children }: any) => (
  <span style={{ fontSize: 27, position: "relative", top: 10 }}>{children}</span>
);
const Sup = ({ children }: any) => (
  <span style={{ fontSize: 18, position: "relative", top: -13, fontStyle: "normal" }}>{children}</span>
);

const LEGEND = [
  { patch: "#000000", text: "#000000", px: 232, py: 12, ph: 23, lx: 328, label: <>d<Sub>z<Sup>2</Sup></Sub></> },
  { patch: "#0000ff", text: "#0000ff", px: 425, py: 12, ph: 22, lx: 515, label: <>d<Sub>xz</Sub></> },
  { patch: "#008000", text: "#008000", px: 620, py: 10, ph: 21, lx: 711, label: <>d<Sub>yz</Sub></> },
  { patch: "#ff0000", text: "#ff0000", px: 793, py: 10, ph: 21, lx: 884, label: <>d<Sub>xy</Sub></> },
  { patch: "#00bfbf", text: "#008080", px: 967, py: 10, ph: 21, lx: 1058, label: <>d<Sub>x<Sup>2</Sup><span style={{ fontStyle: "normal" }}>{" \u2212 "}</span>y<Sup>2</Sup></Sub></> },
];

export default function App() {
  const cells: any[] = [];
  for (let c = 0; c < 3; c++) for (let r = 0; r < 4; r++) cells.push({ c, r });
  return (
    <div style={{ position: "absolute", left: 0, top: 0, width: 1373, height: 1077, background: "#fff", overflow: "hidden" }}>
      {[0, 1, 2].map((c) => (
        <React.Fragment key={"bg" + c}>
          <div style={{ position: "absolute", left: COL_X[c], top: 57, width: COL_W[c], height: 41, background: BG[c] }} />
          <div style={{ position: "absolute", left: COL_X[c], top: ROW_Y[0], width: COL_W[c], height: 897, background: BG[c] }} />
          <div style={abs(HEAD_CX[c], 76, { fontFamily: BOLD, fontWeight: "bold", fontSize: 19, color: HEAD_COLORS[c], transform: "translate(-50%,-50%)" })}>
            {PHASES[c]}
          </div>
          <div style={abs(ENERGY_CX[c], 1053, { fontFamily: BOLD, fontWeight: "bold", fontSize: 33, transform: "translate(-50%,-50%) scaleX(0.76)" })}>Energy(eV)</div>
        </React.Fragment>
      ))}
      {cells.map(({ c, r }) => (
        <Panel key={`p${c}${r}`} col={c} row={r} />
      ))}
      {cells.map(({ c, r }) => (
        <Annotations key={`a${c}${r}`} col={c} row={r} />
      ))}
      {LEGEND.map((l, i) => (
        <React.Fragment key={"lg" + i}>
          <div style={{ position: "absolute", left: l.px, top: l.py, width: 67, height: l.ph, background: l.patch }} />
          <div style={{ position: "absolute", left: l.lx, top: 0, lineHeight: 1 }}>
            <MathLabel color={l.text}>{l.label}</MathLabel>
          </div>
        </React.Fragment>
      ))}
      <div style={{ position: "absolute", left: 28, top: 540, transform: "translate(-50%,-50%) rotate(-90deg)", whiteSpace: "nowrap", fontFamily: BOLD, fontWeight: "bold", fontSize: 30, lineHeight: 1 }}>
        DOS (Electronic states/eV)
      </div>
    </div>
  );
}
